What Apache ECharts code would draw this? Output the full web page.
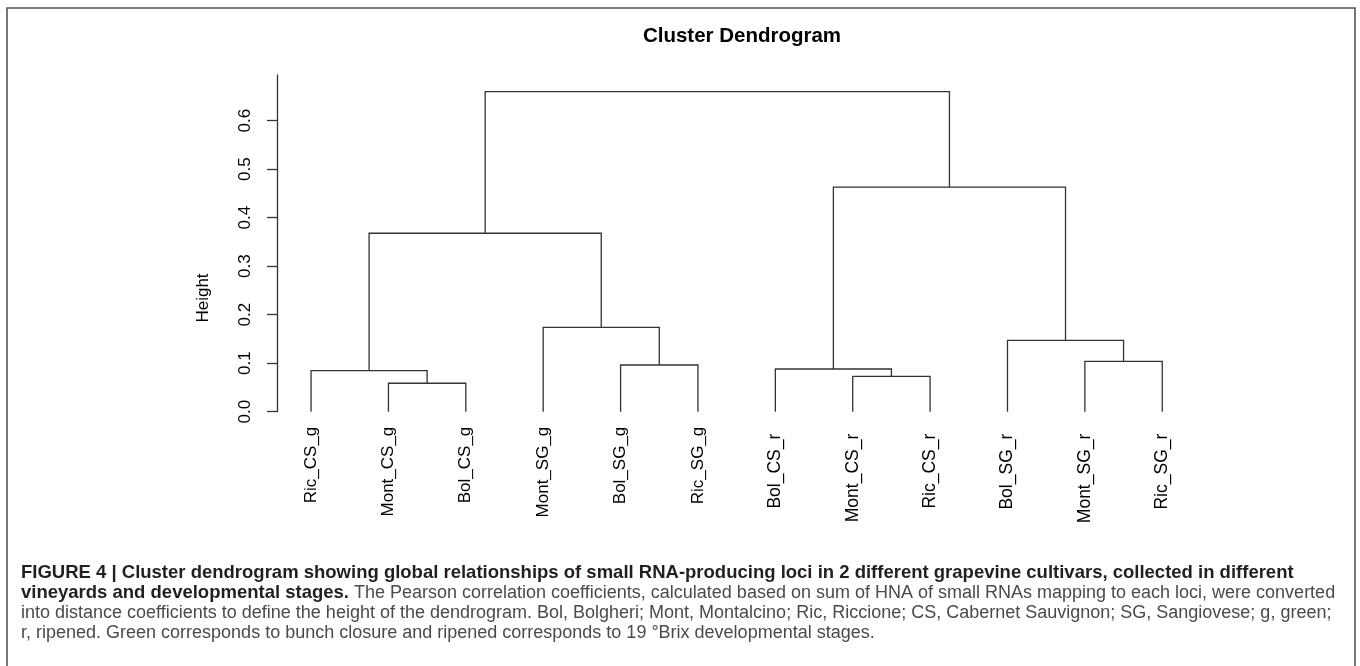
<!DOCTYPE html>
<html>
<head>
<meta charset="utf-8">
<script src="https://cdn.jsdelivr.net/npm/echarts@6/dist/echarts.min.js"></script>
<style>
  html, body { margin: 0; padding: 0; background: #fff; }
  #main { width: 1360px; height: 666px; }
</style>
</head>
<body>
<div id="main"></div>
<script>
// leaves in dendrogram order (left to right)
const leafLabels = ["Ric_CS_g", "Mont_CS_g", "Bol_CS_g", "Mont_SG_g", "Bol_SG_g", "Ric_SG_g",
    "Bol_CS_r", "Mont_CS_r", "Ric_CS_r", "Bol_SG_r", "Mont_SG_r", "Ric_SG_r"];
// hclust-style merges: negative = leaf (1-based position), positive = earlier merge
const mergePairs = [[-2, -3], [-8, -9], [-1, 1], [-7, 2], [-5, -6], [-11, -12],
    [-10, 6], [-4, 5], [3, 8], [4, 7], [9, 10]];
const mergeHeights = [0.0586, 0.073, 0.0845, 0.088, 0.0963, 0.1039, 0.1472, 0.174, 0.3678, 0.4627, 0.6598];
const heightTicks = [0, 0.1, 0.2, 0.3, 0.4, 0.5, 0.6];

const captionLines = [
    "{b|FIGURE 4 | Cluster dendrogram showing global relationships of small RNA-producing loci in 2 different grapevine cultivars, collected in different}",
    "{b|vineyards and developmental stages.}{r| The Pearson correlation coefficients, calculated based on sum of HNA of small RNAs mapping to each loci, were converted}",
    "{r|into distance coefficients to define the height of the dendrogram. Bol, Bolgheri; Mont, Montalcino; Ric, Riccione; CS, Cabernet Sauvignon; SG, Sangiovese; g, green;}",
    "{r|r, ripened. Green corresponds to bunch closure and ripened corresponds to 19 °Brix developmental stages.}"
];

// build the segments of each merge from the tree
const mergeX = [];
const segments = [];
function nodeOf(ref) {
    if (ref < 0) return { x: -ref, h: 0 };
    return { x: mergeX[ref - 1], h: mergeHeights[ref - 1] };
}
mergePairs.forEach(function (pair, i) {
    const a = nodeOf(pair[0]);
    const b = nodeOf(pair[1]);
    mergeX[i] = (a.x + b.x) / 2;
    segments.push([a.x, b.x, a.h, b.h, mergeHeights[i]]);
});

const font = "'Liberation Sans', Arial, sans-serif";
const chart = echarts.init(document.getElementById("main"));

const option = {
    animation: false,
    backgroundColor: "#fff",
    title: {
        text: "Cluster Dendrogram",
        left: 737,
        top: 21,
        textAlign: "center",
        textStyle: { fontFamily: font, fontSize: 20.5, fontWeight: "bold", color: "#000" }
    },
    grid: { left: 277, right: 163.7, top: 75, bottom: 254.3 },
    xAxis: {
        type: "value",
        min: 0.56,
        max: 12.44,
        axisLine: { show: false },
        axisTick: { show: false },
        splitLine: { show: false },
        axisLabel: {
            customValues: leafLabels.map(function (_, i) { return i + 1; }),
            formatter: function (v) {
                const name = leafLabels[Math.round(v) - 1];
                return /_r$/.test(name) ? "{r|" + name + "}" : "{g|" + name + "}";
            },
            rotate: 90,
            margin: 15,
            rich: {
                g: { fontFamily: font, fontSize: 17, color: "#000" },
                r: { fontFamily: font, fontSize: 17.5, color: "#000", padding: [0, 7, 0, 0] }
            }
        }
    },
    yAxis: {
        type: "value",
        min: 0,
        max: 0.694,
        axisLine: { show: true, onZero: false, lineStyle: { color: "#333", width: 1.3 } },
        axisTick: { show: true, length: 10, customValues: heightTicks, lineStyle: { color: "#333", width: 1.3 } },
        splitLine: { show: false },
        axisLabel: {
            customValues: heightTicks,
            formatter: function (v) { return v.toFixed(1); },
            rotate: 90,
            margin: 23,
            fontFamily: font,
            fontSize: 17,
            color: "#000"
        }
    },
    series: [{
        type: "custom",
        data: segments,
        encode: { x: [0, 1], y: [2, 3, 4] },
        renderItem: function (params, api) {
            const p1 = api.coord([api.value(0), api.value(2)]);
            const p2 = api.coord([api.value(0), api.value(4)]);
            const p3 = api.coord([api.value(1), api.value(4)]);
            const p4 = api.coord([api.value(1), api.value(3)]);
            return {
                type: "polyline",
                shape: { points: [p1, p2, p3, p4] },
                style: { stroke: "#333", lineWidth: 1.3, fill: null }
            };
        }
    }],
    graphic: [
        {
            type: "polyline",
            shape: { points: [[7, 666], [7, 8], [1355, 8], [1355, 666]] },
            style: { stroke: "#555", lineWidth: 1.6, fill: null }
        },
        {
            // y axis title, placed as in the R plot
            type: "text",
            x: 203,
            y: 298,
            rotation: Math.PI / 2,
            style: {
                text: "Height",
                fontFamily: font,
                fontSize: 17,
                fill: "#000",
                align: "center",
                verticalAlign: "middle"
            }
        }
    ].concat(captionLines.map(function (line, i) {
        return {
            type: "text",
            left: 21,
            top: 563 + i * 20.5,
            style: {
                text: line,
                rich: {
                    b: { fontFamily: font, fontSize: 18.5, fontWeight: "bold", fill: "#231f20" },
                    r: { fontFamily: font, fontSize: 18, fill: "#4a4a4a" }
                }
            }
        };
    }))
};

chart.setOption(option);
</script>
</body>
</html>
